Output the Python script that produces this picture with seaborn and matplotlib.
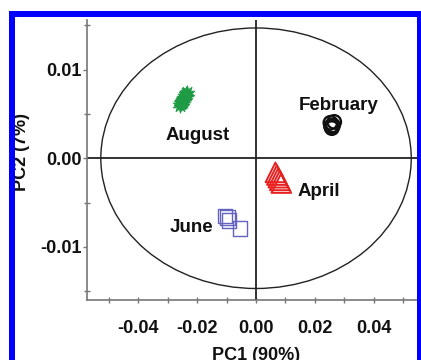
import numpy as np
import pandas as pd
import matplotlib
matplotlib.use("Agg")
import matplotlib.pyplot as plt
from matplotlib.patches import Ellipse, Rectangle
from matplotlib.ticker import MultipleLocator, FormatStrFormatter
import seaborn as sns

# ---- data ----
august_x = [-0.0236, -0.0239, -0.0242, -0.0245, -0.0248, -0.0251, -0.0254, -0.0257]
august_y = [0.0074, 0.0072, 0.0070, 0.0068, 0.0066, 0.0064, 0.0062, 0.0060]
february_x = [0.0253, 0.0262, 0.0258, 0.0266, 0.0255]
february_y = [0.0040, 0.0037, 0.0034, 0.0041, 0.0036]
april_x = [0.0066, 0.0071, 0.0076, 0.0081, 0.0086]
april_y = [-0.0016, -0.0019, -0.0022, -0.0025, -0.0028]
june_x = [-0.0106, -0.0097, -0.0092, -0.0055]
june_y = [-0.0065, -0.0067, -0.0070, -0.0079]

labels = ["February", "August", "April", "June"]
label_x = [0.0280, -0.0198, 0.0212, -0.0219]
label_y = [0.0060, 0.0026, -0.0037, -0.0078]

x_ticks = [-0.04, -0.02, 0.00, 0.02, 0.04]
y_ticks = [-0.01, 0.00, 0.01]

sns.set_theme(style="white")
plt.rcParams["font.family"] = ["Liberation Sans", "DejaVu Sans"]
plt.rcParams["axes.unicode_minus"] = False

fig = plt.figure(figsize=(4.21, 3.60), dpi=100)
fig.patch.set_facecolor("white")
ax = fig.add_axes([87 / 421, 1 - 300 / 360, (418 - 87) / 421, (300 - 20) / 360])
ax.set_facecolor("white")

ax.add_patch(Ellipse((0, 0), width=2 * 0.0528, height=2 * 0.0147,
                     fill=False, ec="#222222", lw=1.0, zorder=1))
ax.axvline(0, color="#222222", lw=1.3, zorder=1)
ax.axhline(0, color="#222222", lw=1.3, zorder=1)

df_aug = pd.DataFrame({"PC1": august_x, "PC2": august_y})
df_feb = pd.DataFrame({"PC1": february_x, "PC2": february_y})
df_apr = pd.DataFrame({"PC1": april_x, "PC2": april_y})
df_jun = pd.DataFrame({"PC1": june_x, "PC2": june_y})

sns.scatterplot(data=df_aug, x="PC1", y="PC2", ax=ax, marker=(10, 1, 0),
                color="#1f9a45", s=125, linewidth=0.6, edgecolor="#1f9a45", zorder=3)
sns.scatterplot(data=df_feb, x="PC1", y="PC2", ax=ax, marker="o",
                color="#111111", facecolor="none", edgecolor="#111111",
                s=95, linewidth=1.7, zorder=3)
sns.scatterplot(data=df_apr, x="PC1", y="PC2", ax=ax, marker="^",
                color="#e82020", facecolor="none", edgecolor="#e82020",
                s=200, linewidth=1.4, zorder=3)
sns.scatterplot(data=df_jun, x="PC1", y="PC2", ax=ax, marker="s",
                color="#6464c0", facecolor="none", edgecolor="#6464c0",
                s=110, linewidth=1.0, zorder=3)

for t, lx, ly in zip(labels, label_x, label_y):
    ax.text(lx, ly, t, ha="center", va="center", fontsize=13.5,
            fontweight="bold", color="#111111", zorder=4)

ax.set_xlim(-0.0575, 0.0551)
ax.set_ylim(-0.0160, 0.0156)
ax.set_xticks(x_ticks)
ax.set_yticks(y_ticks)
ax.xaxis.set_minor_locator(MultipleLocator(0.01))
ax.yaxis.set_minor_locator(MultipleLocator(0.005))
ax.xaxis.set_major_formatter(FormatStrFormatter("%.2f"))
ax.yaxis.set_major_formatter(FormatStrFormatter("%.2f"))

for lab in ax.get_xticklabels() + ax.get_yticklabels():
    lab.set_fontweight("bold")
    lab.set_fontsize(13)
    lab.set_color("#111111")

ax.tick_params(axis="x", which="major", direction="inout", length=5, width=1,
               color="#777777", pad=12, bottom=True)
ax.tick_params(axis="x", which="minor", direction="inout", length=5, width=1,
               color="#777777", bottom=True)
ax.tick_params(axis="y", which="major", direction="out", length=3, width=1,
               color="#777777", pad=1, left=True)
ax.tick_params(axis="y", which="minor", direction="inout", length=4, width=1,
               color="#777777", left=True)

for s in ["top", "right"]:
    ax.spines[s].set_visible(False)
for s in ["left", "bottom"]:
    ax.spines[s].set_color("#777777")
    ax.spines[s].set_linewidth(1.2)

ax.set_xlabel("PC1 (90%)", fontsize=13, fontweight="bold", color="#111111")
ax.set_ylabel("PC2 (7%)", fontsize=13, fontweight="bold", color="#111111")
ax.xaxis.set_label_coords((256 - 87) / 331, (300 - 347) / 280)
ax.yaxis.set_label_coords((30 - 87) / 331, (300 - 152) / 280)

# blue frame around the figure
fig.patches.append(Rectangle((12 / 421, -0.1), (420 - 12) / 421, 1.1 - 14 / 360,
                             transform=fig.transFigure, fill=False,
                             ec="#0000ff", lw=6 * 0.72, zorder=10))

fig.savefig("out.png", dpi=100)
